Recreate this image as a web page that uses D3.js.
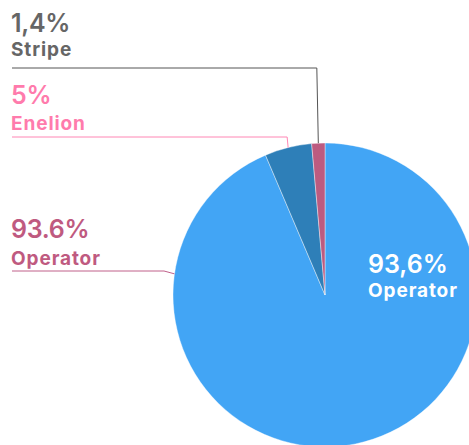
<!DOCTYPE html>
<html>
<head>
<meta charset="utf-8">
<script src="https://cdn.jsdelivr.net/npm/d3@7"></script>
<style>
  html, body { margin: 0; padding: 0; background: #fff; }
  svg { display: block; font-family: "Inter", "Open Sans", sans-serif; }
</style>
</head>
<body>
<div id="chart"></div>
<script>
// --------------------------------------
// Data
// --------------------------------------
const names = ["Operator", "Enelion", "Stripe"];
const shares = [93.6, 5, 1.4];
const shareLabels = ["93.6%", "5%", "1,4%"];
const innerLabel = "93,6%";
const sliceColors = ["#42a5f5", "#2e7fb8", "#bc5b80"];
const labelColors = ["#bf5a80", "#ff7bac", "#666666"];
const lineColors = ["#c0608a", "#ff86b4", "#555555"];

// --------------------------------------
// Canvas
// --------------------------------------
const width = 469, height = 445;
const cx = 325, cy = 295, radius = 152;

const svg = d3.select("#chart")
  .append("svg")
    .attr("width", width)
    .attr("height", height)
    .attr("viewBox", [0, 0, width, height]);

const pieG = svg.append("g")
    .attr("transform", `translate(${cx}, ${cy})`);

// --------------------------------------
// Pie
// --------------------------------------
const pie = d3.pie().sort(null).value(d => d.value);
const arcs = pie(names.map((n, i) => ({ name: n, value: shares[i], i })));

const arc = d3.arc().innerRadius(0).outerRadius(radius);

pieG.selectAll("path")
  .data(arcs)
  .join("path")
    .attr("d", arc)
    .attr("fill", d => sliceColors[d.data.i])
    .attr("stroke", "#ffffff")
    .attr("stroke-width", 0.4);

// point on the rim for a given angle
const rim = a => [cx + radius * Math.sin(a), cy - radius * Math.cos(a)];

// --------------------------------------
// Leader lines + labels
// --------------------------------------
const midAngle = d => (d.startAngle + d.endAngle) / 2;

const stripeEnd = rim(midAngle(arcs[2]));
const enelionEnd = rim(midAngle(arcs[1]));
const operatorEnd = rim(-82 * Math.PI / 180);

const leaders = [
  { i: 2, pts: [[12, 68], [stripeEnd[0] - 1.5, 68], stripeEnd], pctY: 32, nameY: 56 },
  { i: 1, pts: [[12, 137], [enelionEnd[0] - 1, 137], enelionEnd], pctY: 104, nameY: 130 },
  { i: 0, pts: [[12, 271], [164, 271], operatorEnd], pctY: 238, nameY: 265 }
];

const line = d3.line();

svg.selectAll(".leader")
  .data(leaders)
  .join("path")
    .attr("class", "leader")
    .attr("d", d => line(d.pts))
    .attr("fill", "none")
    .attr("stroke", d => lineColors[d.i])
    .attr("stroke-width", 1);

svg.selectAll(".pct")
  .data(leaders)
  .join("text")
    .attr("class", "pct")
    .attr("x", 11)
    .attr("y", d => d.pctY)
    .attr("fill", d => labelColors[d.i])
    .attr("font-size", 25)
    .attr("font-weight", 600)
    .attr("letter-spacing", -0.3)
    .text(d => shareLabels[d.i]);

svg.selectAll(".name")
  .data(leaders)
  .join("text")
    .attr("class", "name")
    .attr("x", 11)
    .attr("y", d => d.nameY)
    .attr("fill", d => labelColors[d.i])
    .attr("font-size", 19)
    .attr("font-weight", 700)
    .attr("letter-spacing", 0.9)
    .text(d => names[d.i]);

// label inside the big slice
svg.append("text")
    .attr("x", 368)
    .attr("y", 273)
    .attr("fill", "#ffffff")
    .attr("font-size", 25)
    .attr("font-weight", 600)
    .text(innerLabel);

svg.append("text")
    .attr("x", 368)
    .attr("y", 297)
    .attr("fill", "#ffffff")
    .attr("font-size", 19)
    .attr("font-weight", 700)
    .attr("letter-spacing", 0.9)
    .text(names[0]);
</script>
</body>
</html>
